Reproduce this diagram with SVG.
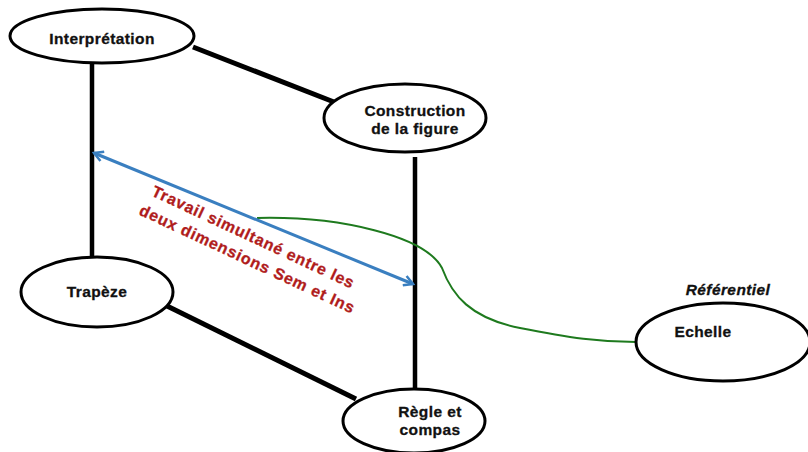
<svg xmlns="http://www.w3.org/2000/svg" width="808" height="452" viewBox="0 0 808 452">
<defs>
<style>
.node ellipse{fill:#fff;stroke:#000;stroke-width:3}
.lbl{font-family:"Liberation Sans",Arial,sans-serif;font-weight:bold;font-size:15.5px;fill:#111;stroke:#111;stroke-width:0.3;text-anchor:middle;letter-spacing:0.4px}
.edge{stroke:#000;stroke-width:5;fill:none}
.vedge{stroke:#000;stroke-width:4.5;fill:none}
.red{font-family:"Liberation Sans",Arial,sans-serif;font-weight:bold;font-size:16px;fill:#b01c1c;stroke:#b01c1c;stroke-width:0.3;text-anchor:middle;letter-spacing:0.8px}
</style>
<marker id="ah" viewBox="0 0 12 12" refX="10" refY="6" markerWidth="12" markerHeight="12" markerUnits="userSpaceOnUse" orient="auto-start-reverse">
<path d="M1,1 L10,6 L1,11" fill="none" stroke="#3a7fc0" stroke-width="2.5"/>
</marker>
</defs>
<rect width="808" height="452" fill="#fff"/>
<g id="connectors">
<line class="edge" x1="193" y1="47" x2="334" y2="102"/>
<line class="vedge" x1="92" y1="64" x2="92" y2="258"/>
<line class="vedge" x1="415" y1="157" x2="415" y2="389"/>
<line class="edge" x1="165" y1="305" x2="356" y2="399"/>
<path d="M257,218 C340,216 425,236 442,268 C452,295 470,318 520,328 C570,338 600,342 636,342" fill="none" stroke="#1e7a1e" stroke-width="2"/>
<line x1="94" y1="153" x2="413" y2="284" stroke="#3a7fc0" stroke-width="3" marker-start="url(#ah)" marker-end="url(#ah)"/>
</g>
<g id="label-travail">
<text class="red" transform="translate(251,242) rotate(25)">Travail simultané entre les</text>
<text class="red" transform="translate(245,264) rotate(25)">deux dimensions Sem et Ins</text>
</g>
<g id="node-interpretation" class="node">
<ellipse cx="102" cy="36" rx="92" ry="27"/>
<text class="lbl" x="102" y="44">Interprétation</text>
</g>
<g id="node-construction" class="node">
<ellipse cx="405" cy="118" rx="81" ry="34"/>
<text class="lbl" x="415" y="116">Construction</text>
<text class="lbl" x="415" y="134">de la figure</text>
</g>
<g id="node-trapeze" class="node">
<ellipse cx="97" cy="292" rx="76" ry="35"/>
<text class="lbl" x="97" y="297">Trapèze</text>
</g>
<g id="node-regle" class="node">
<ellipse cx="414" cy="421" rx="71" ry="32"/>
<text class="lbl" x="430" y="417">Règle et</text>
<text class="lbl" x="430" y="435">compas</text>
</g>
<g id="node-echelle" class="node">
<ellipse cx="723" cy="342" rx="87" ry="39"/>
<text class="lbl" x="703" y="337">Echelle</text>
</g>
<g id="label-referentiel">
<text class="lbl" x="728" y="295" font-style="italic">Référentiel</text>
</g>
</svg>
